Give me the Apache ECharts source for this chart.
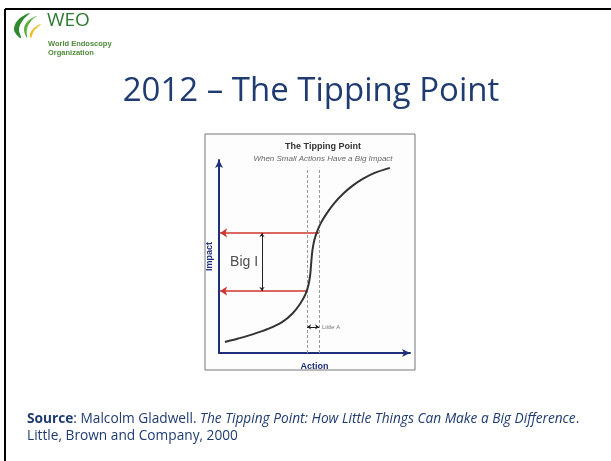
<!DOCTYPE html>
<html>
<head>
<meta charset="utf-8">
<script src="https://cdn.jsdelivr.net/npm/echarts@6/dist/echarts.min.js"></script>
<style>
  html, body { margin: 0; padding: 0; background: #fff; }
  #main { width: 611px; height: 461px; }
</style>
</head>
<body>
<div id="main"></div>
<script>
// S曲线上的点 (Action, Impact)
var curveX = [3.1, 10, 18, 26, 33, 38.5, 42.5, 45.3, 46.9, 47.8, 48.3, 48.9, 49.8, 51.2, 53.3, 56.5, 60.5, 65, 70, 75.5, 81.5, 89.5];
var curveY = [5.7, 7.5, 9.8, 12.6, 16, 20.5, 25.5, 30.5, 35.5, 41, 47, 53, 58, 62.5, 67.3, 72.5, 77.8, 82.5, 86.7, 90.3, 93.3, 95.9];

// 两个动作位置(虚线) 和 对应的影响值(红线)
var actionLevels = [46.1, 52.4];
var impactLevels = [32.1, 62.2];
var dashTop = 96;
var bigIx = 22.5;
var littleAy = 13.5;

var labelTexts = ['Big I', 'Little A'];

var myChart = echarts.init(document.getElementById('main'));

var navy = '#1f2f7a';
var textBlue = '#1f3b70';

var redLines = actionLevels.map(function (a, i) {
    return { coords: [[a, impactLevels[i]], [0.6, impactLevels[i]]] };
});
var dashLines = actionLevels.map(function (a) {
    return { coords: [[a, 0], [a, dashTop]] };
});

var option = {
    backgroundColor: '#ffffff',
    animation: false,
    title: [
        {
            text: '2012 – The Tipping Point',
            left: 306,
            textAlign: 'center',
            top: 70,
            textStyle: { color: textBlue, fontFamily: 'Open Sans', fontWeight: 'normal', fontSize: 33 }
        },
        {
            text: 'The Tipping Point',
            subtext: 'When Small Actions Have a Big Impact',
            left: 318,
            textAlign: 'center',
            top: 137,
            itemGap: 4,
            textStyle: { color: '#333', fontFamily: 'Liberation Sans', fontWeight: 'bold', fontSize: 9 },
            subtextStyle: { color: '#666', fontFamily: 'Liberation Sans', fontStyle: 'italic', fontSize: 8 }
        }
    ],
    graphic: [
        // 幻灯片边框
        { type: 'line', shape: { x1: 5, y1: 9, x2: 611, y2: 9 }, style: { stroke: '#000', lineWidth: 2 } },
        { type: 'line', shape: { x1: 5, y1: 9, x2: 5, y2: 461 }, style: { stroke: '#000', lineWidth: 2 } },
        // 图片边框
        { type: 'rect', z: -1, shape: { x: 205, y: 134, width: 210, height: 236 },
          style: { fill: '#fdfdfd', stroke: '#777', lineWidth: 1 } },
        // logo
        { type: 'polygon', shape: { points: [[30, 13], [19, 19], [14, 28], [16, 34], [21, 38], [19, 29], [23, 20]], smooth: 0.4 }, style: { fill: '#2f8a2f' } },
        { type: 'polygon', shape: { points: [[37, 16], [28, 21], [24, 29], [27, 38], [27, 29], [31, 21]], smooth: 0.4 }, style: { fill: '#5cb040' } },
        { type: 'polygon', shape: { points: [[41, 24], [34, 28], [30, 34], [31, 38], [34, 31]], smooth: 0.4 }, style: { fill: '#e8c020' } },
        { type: 'text', left: 47, top: 11, style: { text: 'WEO', fill: '#2f7a30', font: '19px "Open Sans"' } },
        { type: 'text', left: 48, top: 40, style: { text: 'World Endoscopy', fill: '#4f8a3a', font: 'bold 7.5px "Liberation Sans"' } },
        { type: 'text', left: 48, top: 49, style: { text: 'Organization', fill: '#4f8a3a', font: 'bold 7.5px "Liberation Sans"' } },
        // 出处
        { type: 'text', left: 27, top: 412, style: {
            rich: {
                b: { fontWeight: 'bold', fontFamily: 'Open Sans', fontSize: 13.7, fill: textBlue, lineHeight: 17 },
                n: { fontFamily: 'Open Sans', fontSize: 13.7, fill: textBlue, lineHeight: 17 },
                i: { fontFamily: 'Open Sans', fontStyle: 'italic', fontSize: 13.7, fill: textBlue, lineHeight: 17 }
            },
            text: '{b|Source}{n|: Malcolm Gladwell. }{i|The Tipping Point: How Little Things Can Make a Big Difference}{n|.}\n{n|Little, Brown and Company, 2000}'
        } }
    ],
    grid: { left: 219, right: 201, top: 160, bottom: 108 },
    xAxis: {
        type: 'value', min: 0, max: 100,
        name: 'Action', nameLocation: 'middle', nameGap: 9,
        nameTextStyle: { color: navy, fontWeight: 'bold', fontSize: 9, fontFamily: 'Liberation Sans' },
        axisLine: { lineStyle: { color: navy, width: 2 }, symbol: ['none', 'arrow'], symbolSize: [6, 8] },
        axisTick: { show: false }, axisLabel: { show: false }, splitLine: { show: false }
    },
    yAxis: {
        type: 'value', min: 0, max: 100,
        name: 'Impact', nameLocation: 'middle', nameGap: 5,
        nameTextStyle: { color: navy, fontWeight: 'bold', fontSize: 9, fontFamily: 'Liberation Sans' },
        axisLine: { lineStyle: { color: navy, width: 2 }, symbol: ['none', 'arrow'], symbolSize: [6, 8] },
        axisTick: { show: false }, axisLabel: { show: false }, splitLine: { show: false }
    },
    series: [
        {
            type: 'line', smooth: 0.3, showSymbol: false,
            lineStyle: { color: '#333', width: 2 },
            data: curveX.map(function (x, i) { return [x, curveY[i]]; })
        },
        {
            type: 'lines', coordinateSystem: 'cartesian2d',
            symbol: ['none', 'arrow'], symbolSize: 7,
            lineStyle: { color: '#d0342c', width: 1.5, opacity: 1 },
            data: redLines
        },
        {
            type: 'lines', coordinateSystem: 'cartesian2d',
            lineStyle: { color: '#999', width: 1, type: [3, 2], opacity: 1 },
            data: dashLines
        },
        {
            type: 'lines', coordinateSystem: 'cartesian2d',
            symbol: ['arrow', 'arrow'], symbolSize: 4,
            lineStyle: { color: '#222', width: 1, opacity: 1 },
            data: [
                { coords: [[bigIx, impactLevels[0]], [bigIx, impactLevels[1]]] },
                { coords: [[actionLevels[0], littleAy], [actionLevels[1], littleAy]] }
            ]
        },
        {
            type: 'scatter', symbolSize: 0, silent: true,
            data: [
                { value: [bigIx - 1, (impactLevels[0] + impactLevels[1]) / 2],
                  label: { show: true, position: 'left', distance: 2, formatter: labelTexts[0], fontSize: 14, color: '#222', fontFamily: 'Liberation Sans' } },
                { value: [actionLevels[1] + 1, littleAy],
                  label: { show: true, position: 'right', distance: 1, formatter: labelTexts[1], fontSize: 6, color: '#555', fontFamily: 'Liberation Sans' } }
            ]
        }
    ]
};

myChart.setOption(option);
</script>
</body>
</html>
